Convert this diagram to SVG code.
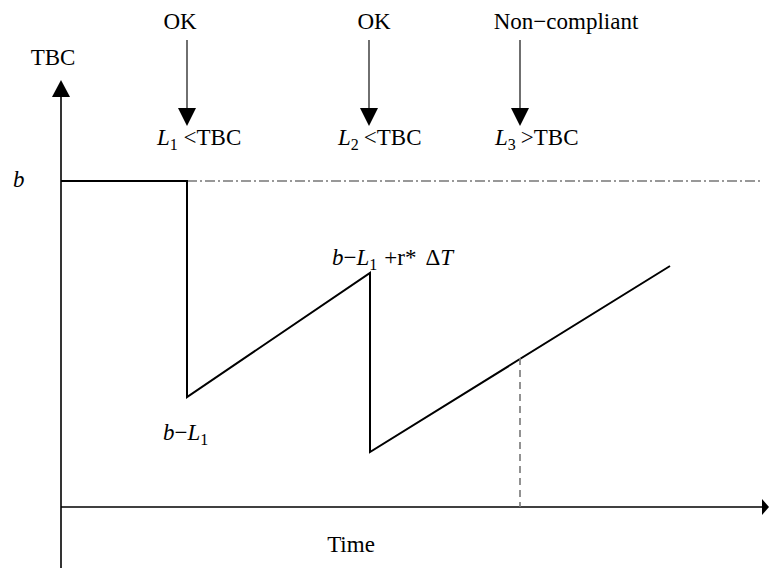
<svg xmlns="http://www.w3.org/2000/svg" width="769" height="568" viewBox="0 0 769 568">
<style>
text{font-family:"Liberation Serif","Times New Roman",serif;font-size:23px;fill:#000}
.i{font-style:italic}
.sub{font-size:16px}
.ax{stroke:#000;stroke-width:1.6;fill:none}
.cur{stroke:#000;stroke-width:2;fill:none}
.dd{stroke:#777;stroke-width:1.6;fill:none;stroke-dasharray:10,3,2,3}
.da{stroke:#777;stroke-width:1.6;fill:none;stroke-dasharray:7,5}
.ev{stroke:#333;stroke-width:1.4;fill:none}
</style>
<g id="connectors">
<line class="ax" x1="61" y1="568" x2="61" y2="97"/>
<path d="M52,97 L61,80 L70,97 Z" fill="#000"/>
<line class="ax" x1="61" y1="507" x2="763" y2="507"/>
<path d="M762,499 L769,507 L762,515 Z" fill="#000"/>
<line class="dd" x1="187" y1="181" x2="762" y2="181"/>
<polyline class="cur" points="61,181 187,181 187,397 370,273 370,452 670,266"/>
<line class="da" x1="520" y1="358" x2="520" y2="507"/>
<line class="ev" x1="187" y1="40" x2="187" y2="110"/>
<path d="M178,108 L187,126 L196,108 Z" fill="#000"/>
<line class="ev" x1="369" y1="40" x2="369" y2="110"/>
<path d="M360,108 L369,126 L378,108 Z" fill="#000"/>
<line class="ev" x1="520" y1="40" x2="520" y2="110"/>
<path d="M511,108 L520,126 L529,108 Z" fill="#000"/>
</g>
<g id="labels">
<text x="53" y="65" text-anchor="middle">TBC</text>
<text x="13" y="187" class="i">b</text>
<text x="180" y="29" text-anchor="middle">OK</text>
<text x="374" y="29" text-anchor="middle">OK</text>
<text x="566" y="29" text-anchor="middle">Non−compliant</text>
<text x="157" y="145"><tspan class="i">L</tspan><tspan class="sub" dy="5">1</tspan><tspan dy="-5"> &lt;TBC</tspan></text>
<text x="338" y="145"><tspan class="i">L</tspan><tspan class="sub" dy="5">2</tspan><tspan dy="-5" dx="5">&lt;TBC</tspan></text>
<text x="495" y="145"><tspan class="i">L</tspan><tspan class="sub" dy="5">3</tspan><tspan dy="-5" dx="5">&gt;TBC</tspan></text>
<text x="332" y="265"><tspan class="i">b</tspan>−<tspan class="i">L</tspan><tspan class="sub" dy="5">1</tspan><tspan dy="-5" dx="7">+r*</tspan><tspan dx="9">Δ</tspan><tspan class="i">T</tspan></text>
<text x="163" y="440"><tspan class="i">b</tspan>−<tspan class="i">L</tspan><tspan class="sub" dy="5">1</tspan></text>
<text x="351" y="552" text-anchor="middle">Time</text>
</g>
</svg>
